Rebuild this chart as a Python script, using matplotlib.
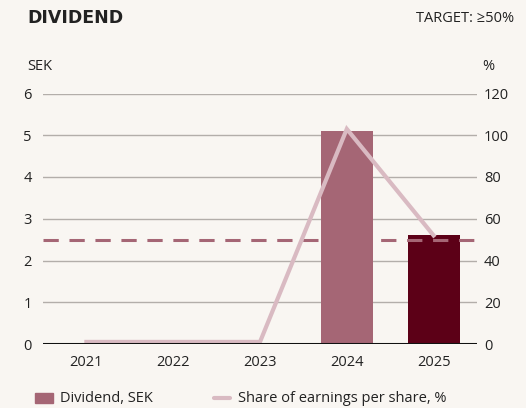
import matplotlib
matplotlib.use("Agg")
import matplotlib.pyplot as plt
from matplotlib.patches import Rectangle
from matplotlib.lines import Line2D

years = ["2021", "2022", "2023", "2024", "2025"]
dividend_sek = [0, 0, 0, 5.1, 2.6]
payout_pct = [1, 1, 1, 103, 52]
target_pct = 50
left_ticks = [0, 1, 2, 3, 4, 5, 6]
right_ticks = [0, 20, 40, 60, 80, 100, 120]

bg = "#f9f6f2"
bar_colors = ["#a56675", "#a56675", "#a56675", "#a56675", "#5c0017"]
line_color = "#d9bac2"
dash_color = "#a56675"
grid_color = "#b3aeaa"
txt = "#222222"

plt.rcParams['font.family'] = ['Open Sans', 'DejaVu Sans']

fig = plt.figure(figsize=(5.26, 4.08), dpi=100, facecolor=bg)
ax = fig.add_axes([43/526, 1-344/408, 434/526, 250.5/408])
ax.set_facecolor(bg)
x = list(range(len(years)))
ax.set_xlim(-0.5, len(years) - 0.5)
ax.set_ylim(0, 6)
for t in left_ticks[1:]:
    ax.axhline(t, color=grid_color, lw=1, zorder=0)
ax.bar(x, dividend_sek, width=0.6, color=bar_colors, zorder=2)
ax.set_yticks(left_ticks)
ax.set_xticks(x)
ax.set_xticklabels(years)
ax.tick_params(axis='both', length=0, labelsize=10.5, colors=txt)
ax.tick_params(axis='y', pad=8)
ax.tick_params(axis='x', pad=8)
for s in ax.spines.values():
    s.set_visible(False)

ax2 = ax.twinx()
ax2.set_ylim(0, 120)
ax2.set_yticks(right_ticks)
ax2.tick_params(axis='y', length=0, labelsize=10.5, colors=txt, pad=5)
for s in ax2.spines.values():
    s.set_visible(False)
ax2.axhline(target_pct, color=dash_color, lw=2.2, ls=(0, (5, 3.5)), zorder=3)
ax2.plot(x, payout_pct, color=line_color, lw=3, zorder=4, solid_joinstyle='miter')
ax2.axhline(0, color="#111111", lw=2.2, zorder=5)

fig.text(27/526, 1-18/408, "DIVIDEND", fontsize=12.5, fontweight='bold', color=txt,
         va='center', ha='left', family=['DejaVu Sans'])
fig.text(514/526, 1-18/408, "TARGET: \u226550%", fontsize=10.5, color=txt, va='center', ha='right')
fig.text(27/526, 1-67/408, "SEK", fontsize=10.5, color=txt, va='center', ha='left')
fig.text(494/526, 1-67/408, "%", fontsize=10.5, color=txt, va='center', ha='right')

fig.patches.append(Rectangle((35/526, 1-403/408), 18/526, 10/408, transform=fig.transFigure,
                             color="#a56675"))
fig.text(60/526, 1-398/408, "Dividend, SEK", fontsize=10.5, color=txt, va='center', ha='left')
fig.lines.append(Line2D([214/526, 230/526], [1-398/408, 1-398/408], transform=fig.transFigure,
                        color=line_color, lw=3, solid_capstyle='round'))
fig.text(238/526, 1-398/408, "Share of earnings per share, %", fontsize=10.5, color=txt,
         va='center', ha='left')

fig.savefig("out.png", dpi=100, facecolor=bg)
